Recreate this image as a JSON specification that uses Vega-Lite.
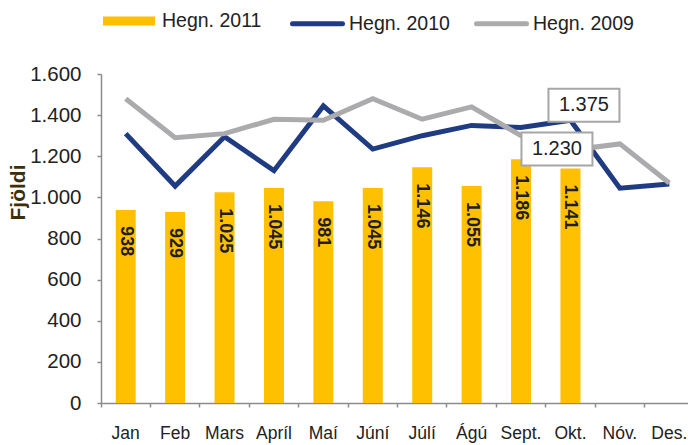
{
  "$schema": "https://vega.github.io/schema/vega-lite/v6.json",
  "width": 587,
  "height": 329,
  "autosize": {"type": "none"},
  "padding": {"left": 101, "top": 74, "right": 0, "bottom": 42},
  "config": {
    "locale": {"number": {"decimal": ",", "thousands": ".", "grouping": [3], "currency": ["", ""]}},
    "font": "Liberation Sans",
    "view": {"stroke": null},
    "axis": {"grid": false, "domainColor": "#8c8c8c", "tickColor": "#8c8c8c", "domainWidth": 1.5, "tickWidth": 1.5, "labelColor": "#222222"}
  },
  "datasets": {
    "bars": [
      {"month": "Jan", "series": "Hegn. 2011", "value": 938},
      {"month": "Feb", "series": "Hegn. 2011", "value": 929},
      {"month": "Mars", "series": "Hegn. 2011", "value": 1025},
      {"month": "Apríl", "series": "Hegn. 2011", "value": 1045},
      {"month": "Maí", "series": "Hegn. 2011", "value": 981},
      {"month": "Júní", "series": "Hegn. 2011", "value": 1045},
      {"month": "Júlí", "series": "Hegn. 2011", "value": 1146},
      {"month": "Ágú", "series": "Hegn. 2011", "value": 1055},
      {"month": "Sept.", "series": "Hegn. 2011", "value": 1186},
      {"month": "Okt.", "series": "Hegn. 2011", "value": 1141}
    ],
    "lines": [
      {"month": "Jan", "series": "Hegn. 2010", "value": 1310},
      {"month": "Feb", "series": "Hegn. 2010", "value": 1055},
      {"month": "Mars", "series": "Hegn. 2010", "value": 1295},
      {"month": "Apríl", "series": "Hegn. 2010", "value": 1130},
      {"month": "Maí", "series": "Hegn. 2010", "value": 1445},
      {"month": "Júní", "series": "Hegn. 2010", "value": 1235},
      {"month": "Júlí", "series": "Hegn. 2010", "value": 1300},
      {"month": "Ágú", "series": "Hegn. 2010", "value": 1350},
      {"month": "Sept.", "series": "Hegn. 2010", "value": 1340},
      {"month": "Okt.", "series": "Hegn. 2010", "value": 1375},
      {"month": "Nóv.", "series": "Hegn. 2010", "value": 1045},
      {"month": "Des.", "series": "Hegn. 2010", "value": 1065},
      {"month": "Jan", "series": "Hegn. 2009", "value": 1480},
      {"month": "Feb", "series": "Hegn. 2009", "value": 1290},
      {"month": "Mars", "series": "Hegn. 2009", "value": 1310},
      {"month": "Apríl", "series": "Hegn. 2009", "value": 1380},
      {"month": "Maí", "series": "Hegn. 2009", "value": 1375},
      {"month": "Júní", "series": "Hegn. 2009", "value": 1480},
      {"month": "Júlí", "series": "Hegn. 2009", "value": 1380},
      {"month": "Ágú", "series": "Hegn. 2009", "value": 1440},
      {"month": "Sept.", "series": "Hegn. 2009", "value": 1300},
      {"month": "Okt.", "series": "Hegn. 2009", "value": 1230},
      {"month": "Nóv.", "series": "Hegn. 2009", "value": 1260},
      {"month": "Des.", "series": "Hegn. 2009", "value": 1070}
    ]
  },
  "encoding": {
    "x": {
      "field": "month",
      "type": "nominal",
      "sort": ["Jan", "Feb", "Mars", "Apríl", "Maí", "Júní", "Júlí", "Ágú", "Sept.", "Okt.", "Nóv.", "Des."],
      "scale": {"domain": ["Jan", "Feb", "Mars", "Apríl", "Maí", "Júní", "Júlí", "Ágú", "Sept.", "Okt.", "Nóv.", "Des."], "range": [0, 593], "paddingInner": 0, "paddingOuter": 0},
      "axis": {"title": null, "bandPosition": 0, "labelAngle": 0, "labelFontSize": 17.5, "labelPadding": 17, "tickSize": 4}
    },
    "y": {
      "field": "value",
      "type": "quantitative",
      "scale": {"domain": [0, 1600], "nice": false},
      "axis": {"title": "Fjöldi", "values": [0, 200, 400, 600, 800, 1000, 1200, 1400, 1600], "format": ",d", "labelFontSize": 20.5, "labelPadding": 16, "tickSize": 4, "titleFontSize": 21, "titleFontWeight": "bold", "titleColor": "#3d2f0a", "titleX": -83, "titleY": 118, "titleAlign": "center", "titleBaseline": "middle", "titleAngle": -90}
    }
  },
  "layer": [
    {
      "data": {"name": "bars"},
      "mark": {"type": "bar", "width": 20},
      "encoding": {
        "color": {
          "field": "series",
          "type": "nominal",
          "scale": {"domain": ["Hegn. 2011"], "range": ["#FFC000"]},
          "legend": {"title": null, "orient": "none", "legendX": 2, "legendY": -79, "padding": 0, "labelFontSize": 19.5, "labelColor": "#222222", "labelOffset": 7, "symbolType": "M-1,-0.173H1V0.173H-1Z", "symbolSize": 2704, "symbolStrokeWidth": 0, "symbolOpacity": 1}
        }
      }
    },
    {
      "data": {"name": "bars"},
      "mark": {"type": "text", "angle": 90, "align": "left", "baseline": "middle", "dx": 16, "fontSize": 18, "fontWeight": "bold", "color": "#1e1e1e"},
      "encoding": {"text": {"field": "value", "type": "quantitative", "format": ",d"}}
    },
    {
      "data": {"name": "lines"},
      "mark": {"type": "line", "strokeWidth": 5},
      "encoding": {
        "stroke": {
          "field": "series",
          "type": "nominal",
          "sort": ["Hegn. 2010", "Hegn. 2009"],
          "scale": {"domain": ["Hegn. 2010", "Hegn. 2009"], "range": ["#1F3B82", "#ABABAD"]},
          "legend": {"title": null, "orient": "none", "direction": "horizontal", "legendX": 189, "legendY": -78, "padding": 0, "labelFontSize": 19.5, "labelColor": "#222222", "labelOffset": 4, "columnPadding": 16, "symbolType": "stroke", "symbolSize": 2500, "symbolStrokeWidth": 5, "encode": {"symbols": {"update": {"strokeCap": {"value": "round"}}}}}
        }
      }
    },
    {
      "data": {"name": "lines"},
      "transform": [{"filter": "datum.month == 'Okt.' && datum.series == 'Hegn. 2010'"}],
      "mark": {"type": "point", "shape": "M-1,-0.465H1V0.465H-1Z", "size": 5041, "filled": true, "fill": "white", "stroke": "#A6A6A6", "strokeWidth": 2, "opacity": 1, "xOffset": 13.5, "yOffset": -15}
    },
    {
      "data": {"name": "lines"},
      "transform": [{"filter": "datum.month == 'Okt.' && datum.series == 'Hegn. 2010'"}],
      "mark": {"type": "text", "fontSize": 20, "align": "center", "baseline": "middle", "color": "#222222", "dx": 13.5, "dy": -15},
      "encoding": {"text": {"field": "value", "type": "quantitative", "format": ",d"}}
    },
    {
      "data": {"name": "lines"},
      "transform": [{"filter": "datum.month == 'Okt.' && datum.series == 'Hegn. 2009'"}],
      "mark": {"type": "point", "shape": "M-1,-0.465H1V0.465H-1Z", "size": 5041, "filled": true, "fill": "white", "stroke": "#A6A6A6", "strokeWidth": 2, "opacity": 1, "xOffset": -13.5, "yOffset": -1}
    },
    {
      "data": {"name": "lines"},
      "transform": [{"filter": "datum.month == 'Okt.' && datum.series == 'Hegn. 2009'"}],
      "mark": {"type": "text", "fontSize": 20, "align": "center", "baseline": "middle", "color": "#222222", "dx": -13.5, "dy": -1},
      "encoding": {"text": {"field": "value", "type": "quantitative", "format": ",d"}}
    }
  ]
}
